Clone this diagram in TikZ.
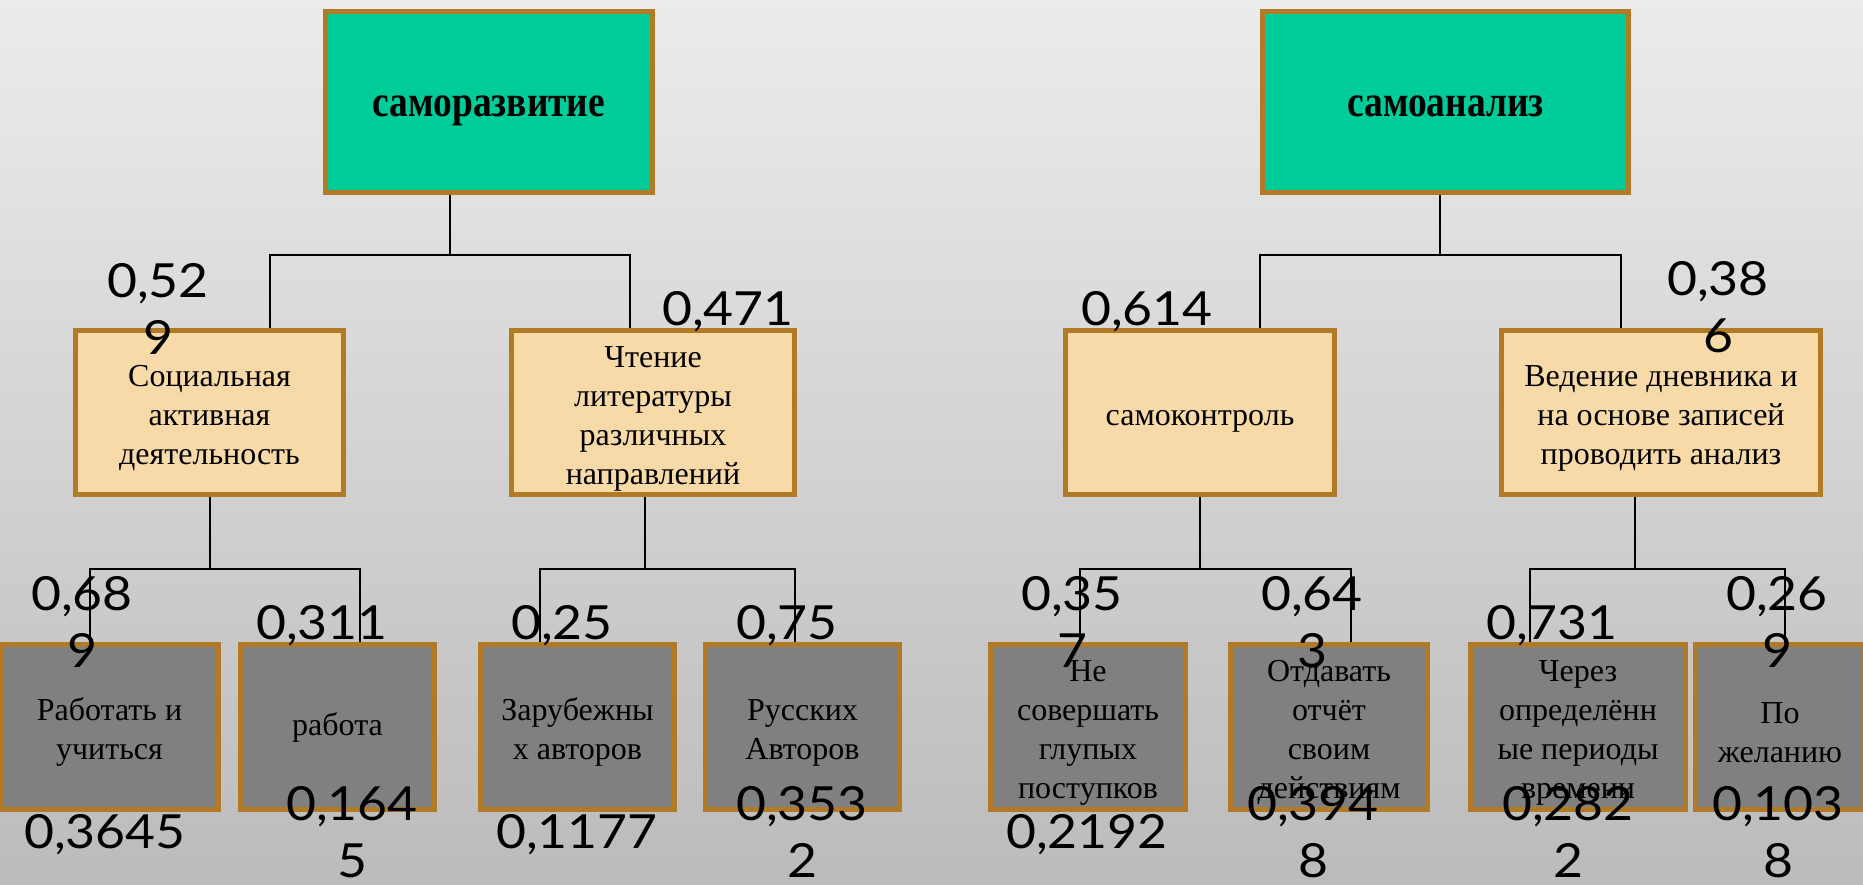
\documentclass[tikz,border=0pt]{standalone}
\usepackage{fontspec}
\setmainfont{Liberation Serif}
\newfontfamily\numfont[FakeStretch=1.1]{Lato}
\newfontfamily\headfont[FakeStretch=0.85]{Liberation Serif}
\newcommand\lift{\rule{0pt}{33pt}}
\definecolor{bgtop}{HTML}{ECECEC}
\definecolor{bgbot}{HTML}{BBBBBB}
\definecolor{boxline}{HTML}{B07A27}
\definecolor{headgreen}{HTML}{00CC99}
\definecolor{midpeach}{HTML}{F8D9A8}
\definecolor{leafgray}{HTML}{808080}
\begin{document}
\begin{tikzpicture}[x=1pt,y=-1pt,
	box/.style={draw=boxline,line width=5pt,inner sep=0pt,align=center,font=\fontsize{32}{39}\selectfont},
	head/.style={draw=boxline,line width=5pt,inner sep=0pt,fill=headgreen,minimum height=181pt,
		text height=30pt,text depth=0pt,font=\headfont\bfseries\fontsize{44}{50}\selectfont},
	mid/.style={box,fill=midpeach,minimum height=164pt},
	leaf/.style={box,fill=leafgray,minimum height=165pt},
	num/.style={anchor=north,inner sep=0pt,align=center,font=\numfont\fontsize{47}{57}\selectfont},
	link/.style={line width=2pt}]
	\useasboundingbox (0,0) rectangle (1863,885);
	\shade[top color=bgtop,bottom color=bgbot] (0,0) rectangle (1863,885);
	% top level
	\node[head,minimum width=327pt] (A) at (489,102) {саморазвитие};
	\node[head,minimum width=366pt] (B) at (1445.5,102) {самоанализ};
	% second level
	\node[mid,minimum width=268pt] (C1) at (209.5,412.5) {\lift Социальная\\активная\\деятельность};
	\node[mid,minimum width=283pt] (C2) at (653,412.5) {\lift Чтение\\литературы\\различных\\направлений};
	\node[mid,minimum width=269pt] (C3) at (1200,412.5) {\lift самоконтроль};
	\node[mid,minimum width=319pt] (C4) at (1661,412.5) {\lift Ведение дневника и\\на основе записей\\проводить анализ};
	% third level
	\node[leaf,minimum width=218pt] (D1) at (109.5,727) {\lift Работать и\\учиться};
	\node[leaf,minimum width=194pt] (D2) at (337.5,727) {работа};
	\node[leaf,minimum width=194pt] (D3) at (577.5,727) {\lift Зарубежны\\х авторов};
	\node[leaf,minimum width=194pt] (D4) at (802.5,727) {\lift Русских\\Авторов};
	\node[leaf,minimum width=195pt] (D5) at (1088,727) {\lift Не\\совершать\\глупых\\поступков};
	\node[leaf,minimum width=197pt] (D6) at (1329,727) {\lift Отдавать\\отчёт\\своим\\действиям};
	\node[leaf,minimum width=215pt] (D7) at (1578,727) {\lift Через\\определённ\\ые периоды\\времени};
	\node[leaf,minimum width=169pt] (D8) at (1780,727) {\lift По\\желанию};
	% connectors
	\coordinate (busA) at (450,255);
	\coordinate (busB) at (1440,255);
	\coordinate (busC1) at (210,569);
	\coordinate (busC2) at (645,569);
	\coordinate (busC3) at (1200,569);
	\coordinate (busC4) at (1635,569);
	\draw[link] (A.south -| busA) -- (busA);
	\draw[link] ([xshift=60.5pt]C1.north) |- (busA) -| ([xshift=-23pt]C2.north);
	\draw[link] (B.south -| busB) -- (busB);
	\draw[link] ([xshift=60pt]C3.north) |- (busB) -| ([xshift=-40pt]C4.north);
	\draw[link] (C1.south -| busC1) -- (busC1);
	\draw[link] ([xshift=-19.5pt]D1.north) |- (busC1) -| ([xshift=22.5pt]D2.north);
	\draw[link] (C2.south -| busC2) -- (busC2);
	\draw[link] ([xshift=-37.5pt]D3.north) |- (busC2) -| ([xshift=-7.5pt]D4.north);
	\draw[link] (C3.south -| busC3) -- (busC3);
	\draw[link] ([xshift=-8pt]D5.north) |- (busC3) -| ([xshift=22pt]D6.north);
	\draw[link] (C4.south -| busC4) -- (busC4);
	\draw[link] ([xshift=-48pt]D7.north) |- (busC4) -| ([xshift=5pt]D8.north);
	% weights
	\node[num] (wC1) at (158,263) {0,52\\9};
	\node[num] (wC2) at (728,291) {0,471};
	\node[num] (wC3) at (1147,291) {0,614};
	\node[num] (wC4) at (1718,261) {0,38\\6};
	\node[num] (wD1) at (82,576) {0,68\\9};
	\node[num] (wD2) at (322,605) {0,311};
	\node[num] (wD3) at (562,605) {0,25};
	\node[num] (wD4) at (787,605) {0,75};
	\node[num] (wD5) at (1072,576) {0,35\\7};
	\node[num] (wD6) at (1312,576) {0,64\\3};
	\node[num] (wD7) at (1552,605) {0,731};
	\node[num] (wD8) at (1777,576) {0,26\\9};
	\node[num] (gD1) at (105,814) {0,3645};
	\node[num] (gD2) at (352,786) {0,164\\5};
	\node[num] (gD3) at (577,814) {0,1177};
	\node[num] (gD4) at (802,786) {0,353\\2};
	\node[num] (gD5) at (1087,814) {0,2192};
	\node[num] (gD6) at (1313,786) {0,394\\8};
	\node[num] (gD7) at (1568,786) {0,282\\2};
	\node[num] (gD8) at (1778,786) {0,103\\8};
\end{tikzpicture}
\end{document}
